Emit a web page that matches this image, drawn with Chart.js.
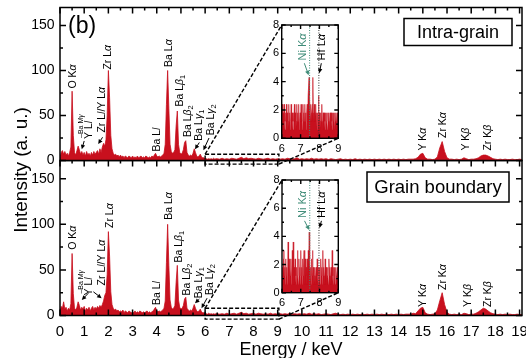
<!DOCTYPE html>
<html lang="en">
<head>
<meta charset="utf-8">
<title>EDS spectra - intra-grain / grain boundary</title>
<script src="https://cdn.jsdelivr.net/npm/chart.js"></script>
<style>
  body { margin: 0; background: #fff; }
  #wrap { position: relative; width: 526px; height: 358px; overflow: hidden; }
  #wrap canvas { position: absolute; left: 0; top: 0; }
</style>
</head>
<body>
<div id="wrap">
  <canvas id="bottom" width="526" height="358"></canvas>
  <canvas id="top" width="526" height="358"></canvas>
  <canvas id="insetTop" width="526" height="358"></canvas>
  <canvas id="insetBottom" width="526" height="358"></canvas>
</div>
<script>
const FONT = '"Liberation Sans", Arial, Helvetica, sans-serif';
const RED = 'rgb(200, 16, 30)';
const TEAL = '#3f8c78';
Chart.defaults.font.family = FONT;
Chart.defaults.color = '#000';

// sampling grid of the spectra (keV)
const LOW_START = 0, LOW_STEP = 0.05;     // 0 .. 6.45
const HIGH_START = 6.5, HIGH_STEP = 0.1;  // 6.5 .. 19.1
const INSET_START = 6, INSET_STEP = 0.025; // 6 .. 9

// tick values
const energyTicks = [0, 1, 2, 3, 4, 5, 6, 7, 8, 9, 10, 11, 12, 13, 14, 15, 16, 17, 18, 19];
const countTicks = [0, 50, 100, 150];
const insetXTicks = [6, 7, 8, 9];
const insetYTicks = [0, 2, 4, 6, 8];
const insetLines = [7.48, 7.97]; // Ni Ka, Hf La

// intra-grain spectrum (a.u.)
const intraLow = [
  3, 9, 11, 7, 10, 6, 8, 5, 9, 15,
  77, 28, 9, 6, 11, 16, 12, 7, 10, 6,
  9, 5, 10, 6, 8, 5, 9, 6, 10, 7,
  9, 11, 7, 13, 9, 15, 19, 16, 23, 50,
  100, 70, 28, 13, 8, 6, 7, 5, 6, 4,
  6, 4, 5, 3, 5, 4, 3, 5, 4, 3,
  5, 3, 4, 3, 5, 3, 4, 5, 3, 4,
  3, 5, 4, 3, 4, 3, 5, 4, 6, 8,
  5, 4, 5, 4, 5, 6, 8, 18, 62, 100,
  58, 18, 10, 8, 9, 12, 38, 55, 18, 9,
  7, 8, 12, 20, 22, 9, 6, 5, 6, 5,
  8, 13, 9, 5, 4, 5, 7, 4, 3, 3,
  2, 2, 1.5, 2, 1.5, 2, 1.5, 2.5, 1.5, 2
];
const intraHigh = [
  2, 1.5, 2.5, 1.5, 2, 1.5, 2.5, 2, 1.5, 2.5,
  3.5, 2, 3, 2, 2.5, 2, 1.5, 2.5, 2, 1.5,
  2, 2.5, 1.5, 2, 1.5, 2, 1.5, 2, 1.5, 2.5,
  2, 1.5, 2, 3, 1.5, 2, 1.5, 2, 1.5, 2.5,
  1.5, 2, 1.5, 2, 1.5, 2, 1, 2, 1.5, 1,
  1.5, 2, 1, 1.5, 1, 1.5, 1, 2, 1, 1.5,
  1, 1.5, 1, 1.5, 1, 1.5, 1, 1.5, 1, 1.5,
  1, 1.5, 1, 1.5, 1, 1.5, 1, 1.5, 1, 1.5,
  1.5, 1.5, 2, 3.5, 7, 8, 3, 1.5, 1.5, 1,
  1.5, 4, 14, 21, 10, 3, 1.5, 1.5, 1, 1.5,
  1, 1.5, 3, 2, 1, 1.5, 1.5, 2, 3, 5,
  6, 6, 5, 3.5, 2, 1.5, 1, 1.5, 1, 1.5,
  1, 1, 1.5, 1, 1, 1.5, 1
];

// grain-boundary spectrum (a.u.)
const boundaryLow = [
  4, 10, 8, 15, 7, 9, 5, 8, 6, 13,
  68, 24, 8, 6, 9, 15, 11, 6, 9, 7,
  10, 5, 8, 6, 9, 5, 8, 10, 6, 9,
  7, 10, 8, 11, 9, 12, 16, 22, 25, 45,
  92, 65, 26, 12, 8, 6, 7, 5, 6, 4,
  5, 4, 6, 3, 5, 4, 3, 5, 4, 3,
  4, 3, 5, 3, 4, 3, 5, 4, 3, 4,
  3, 4, 5, 3, 4, 3, 4, 5, 7, 9,
  5, 4, 5, 4, 5, 6, 8, 16, 58, 100,
  55, 17, 9, 7, 8, 11, 36, 55, 17, 9,
  7, 8, 11, 18, 20, 8, 6, 5, 6, 5,
  8, 12, 8, 5, 4, 5, 7, 4, 3, 3,
  2, 2, 1.5, 2.5, 1.5, 2, 1.5, 2, 1.5, 2
];
const boundaryHigh = [
  2, 1.5, 2, 1.5, 2.5, 1.5, 2, 2.5, 1.5, 2.5,
  3.5, 2, 2.5, 1.5, 2, 2.5, 1.5, 2.5, 2, 1.5,
  2, 1.5, 2.5, 1.5, 2, 1.5, 2, 1.5, 2, 1.5,
  2.5, 1.5, 2, 1.5, 2, 1.5, 2, 1.5, 2.5, 1.5,
  2, 1.5, 2, 1, 1.5, 2, 1.5, 1, 2, 2.5,
  1.5, 1, 1.5, 1, 1.5, 1, 1.5, 1, 1.5, 1,
  1.5, 1, 1.5, 1, 1.5, 1, 1.5, 1, 1.5, 1,
  1.5, 1, 1.5, 1, 1.5, 1, 1.5, 1, 1.5, 1.5,
  1.5, 2.5, 2, 5, 8, 9, 3, 1.5, 1, 1.5,
  2, 6, 16, 25, 12, 3.5, 1.5, 1, 1.5, 1,
  1.5, 1, 2.5, 2, 1, 1.5, 1.5, 2.5, 4, 6,
  8, 7, 5, 3, 2, 1.5, 1, 1.5, 1, 1.5,
  1, 1.5, 1, 1, 1.5, 1, 1
];

// zoomed 6-9 keV windows
const intraInset = [
  1.2, 2.4, 0.6, 1.8, 1.2, 2.4, 1.2, 0.6, 1.8, 1.2,
  2.4, 1.2, 1.8, 0.6, 1.2, 2.4, 1.2, 1.8, 0.6, 1.2,
  2.4, 1.2, 1.8, 1.2, 0.6, 1.8, 1.2, 2.4, 1.2, 1.8,
  0.6, 1.2, 2.4, 1.2, 1.8, 1.2, 2.4, 0.6, 1.2, 1.8,
  1.2, 2.4, 1.2, 1.8, 0.6, 2.4, 1.2, 1.8, 1.2, 2.4,
  1.2, 1.8, 0.6, 1.8, 2.4, 1.2, 3.0, 3.0, 4.3, 3.0,
  1.8, 1.2, 2.4, 1.8, 1.2, 2.4, 4.3, 1.8, 1.2, 2.4,
  1.2, 1.8, 2.4, 1.2, 1.8, 0.6, 1.8, 1.2, 3.0, 1.2,
  1.8, 0.6, 1.2, 1.8, 1.2, 2.4, 1.2, 0.6, 1.8, 1.2,
  1.8, 1.2, 0.6, 1.8, 1.2, 1.8, 1.2, 0.6, 1.8, 1.2,
  1.8, 1.2, 0.6, 1.8, 1.2, 1.8, 1.2, 0.6, 1.8, 1.2,
  1.8, 1.2, 0.6, 1.8, 1.2, 1.8, 1.2, 0.6, 1.8, 1.2,
  1.8
];
const boundaryInset = [
  1.2, 1.8, 0.6, 2.4, 3.0, 1.2, 1.8, 0.6, 2.4, 1.2,
  1.8, 0.6, 1.2, 3.6, 1.2, 2.4, 0.6, 1.8, 1.2, 2.4,
  0.6, 1.2, 3.0, 1.2, 3.6, 0.6, 1.8, 1.2, 2.4, 1.2,
  0.6, 1.8, 1.2, 3.0, 1.2, 0.6, 2.4, 1.2, 1.8, 0.6,
  3.0, 1.2, 1.8, 0.6, 2.4, 1.2, 1.8, 3.0, 1.2, 0.6,
  2.4, 1.2, 1.8, 0.6, 2.4, 1.2, 3.0, 2.4, 4.3, 2.4,
  1.2, 1.8, 0.6, 2.4, 1.2, 3.0, 1.2, 1.8, 0.6, 1.2,
  1.8, 1.2, 0.6, 1.8, 1.2, 2.4, 1.2, 0.6, 1.8, 1.2,
  1.8, 0.6, 1.2, 2.4, 1.2, 1.8, 0.6, 3.0, 1.2, 1.8,
  1.2, 0.6, 2.4, 1.2, 1.8, 0.6, 1.2, 1.8, 1.2, 0.6,
  2.4, 1.2, 1.8, 1.2, 0.6, 1.8, 1.2, 3.0, 1.2, 0.6,
  1.8, 1.2, 1.8, 0.6, 1.2, 1.8, 1.2, 0.6, 1.8, 1.2,
  1.2
];

// peak labels: energy, intensity where the text starts, text parts (* italic, _ subscript)
function lbl(x, y, ...parts) { return { x, y, parts }; }
const intraPeaks = [
  lbl(0.54, 80, 'O K', '*α'),
  lbl(2.0, 101, 'Zr L', '*α'),
  lbl(1.76, 31, 'Zr L', '*l', '/Y L', '*α'),
  lbl(1.2, 24, 'Y L', '*l'),
  lbl(4.0, 10, 'Ba L', '*l'),
  lbl(4.5, 104, 'Ba L', '*α'),
  lbl(4.96, 60, 'Ba L', '*β', '_1'),
  lbl(5.29, 26, 'Ba L', '*β', '_2'),
  lbl(5.75, 22, 'Ba L', '*γ', '_1'),
  lbl(6.23, 28, 'Ba L', '*γ', '_2'),
  lbl(15.0, 11, 'Y K', '*α'),
  lbl(15.83, 25, 'Zr K', '*α'),
  lbl(16.78, 11, 'Y K', '*β'),
  lbl(17.69, 11, 'Zr K', '*β')
];
const boundaryPeaks = [
  lbl(0.54, 72, 'O K', '*α'),
  lbl(2.07, 96, 'Zr L', '*α'),
  lbl(1.76, 33, 'Zr L', '*l', '/Y L', '*α'),
  lbl(1.22, 22, 'Y L', '*l'),
  lbl(4.0, 11.5, 'Ba L', '*l'),
  lbl(4.5, 105, 'Ba L', '*α'),
  lbl(4.92, 58, 'Ba L', '*β', '_1'),
  lbl(5.25, 22, 'Ba L', '*β', '_2'),
  lbl(5.74, 19, 'Ba L', '*γ', '_1'),
  lbl(6.2, 22.5, 'Ba L', '*γ', '_2'),
  lbl(15.0, 9.3, 'Y K', '*α'),
  lbl(15.83, 28, 'Zr K', '*α'),
  lbl(16.86, 9.3, 'Y K', '*β'),
  lbl(17.69, 9.3, 'Zr K', '*β')
];
// [x1, y1, x2, y2] in keV / a.u.
const intraArrows = [[1.0, 21.7, 0.9, 12.4], [1.76, 25.8, 1.58, 18.3], [5.76, 20, 5.58, 12.4], [6.16, 25, 5.93, 11.5]];
const boundaryArrows = [[1.17, 24.4, 0.9, 17], [1.38, 26, 1.72, 19], [5.76, 18, 5.58, 13.4], [6.08, 19, 5.85, 8]];

const deco = {
  top: {
    sides: 'tlr', peaks: intraPeaks, arrows: intraArrows, mgamma: [0.88, 25],
    zoom: [6, 9.05, 7, -4], inset: 'insetTop', tag: '(b)',
    box: { text: 'Intra-grain', dx0: 344, dy0: 11, w: 108, h: 27, size: 18 }
  },
  bottom: {
    sides: 'tlrb', peaks: boundaryPeaks, arrows: boundaryArrows, mgamma: [0.88, 24],
    zoom: [6, 9.05, 8, -4], inset: 'insetBottom', ytitle: true,
    box: { text: 'Grain boundary', dx0: 307, dy0: 11.5, w: 142, h: 30, size: 18.5 }
  },
  insetTop: {
    inset: true, labels: [lbl(7.12, 5.5, 'Ni K', '*α'), lbl(8.12, 5.5, 'Hf L', '*α')],
    arrows: [[7.2, 5.3, 7.43, 4.45], [8.1, 5.3, 7.99, 4.6]]
  },
  insetBottom: {
    inset: true, labels: [lbl(7.12, 5.3, 'Ni K', '*α'), lbl(8.12, 5.3, 'Hf L', '*α')],
    arrows: [[7.2, 5.1, 7.45, 4.45], [8.1, 5.1, 8.0, 4.6]]
  }
};

function drawRotated(ctx, px, py, parts, size, color) {
  ctx.save();
  ctx.translate(px, py);
  ctx.rotate(-Math.PI / 2);
  ctx.fillStyle = color;
  ctx.textBaseline = 'middle';
  ctx.textAlign = 'left';
  let cx = 0;
  parts.forEach(p => {
    let t = p, it = false, sub = false;
    if (p[0] === '*') { it = true; t = p.slice(1); }
    else if (p[0] === '_') { sub = true; t = p.slice(1); }
    const fs = sub ? size * 0.7 : size;
    ctx.font = (it ? 'italic ' : '') + fs + 'px ' + FONT;
    ctx.fillText(t, cx, sub ? size * 0.3 : 0);
    cx += ctx.measureText(t).width;
  });
  ctx.restore();
}

function arrow(ctx, x1, y1, x2, y2, color) {
  const ang = Math.atan2(y2 - y1, x2 - x1), h = 5;
  ctx.save();
  ctx.strokeStyle = color; ctx.fillStyle = color; ctx.lineWidth = 1;
  ctx.beginPath();
  ctx.moveTo(x1, y1);
  ctx.lineTo(x2 - Math.cos(ang) * h * 0.8, y2 - Math.sin(ang) * h * 0.8);
  ctx.stroke();
  ctx.beginPath();
  ctx.moveTo(x2, y2);
  ctx.lineTo(x2 - h * Math.cos(ang - 0.45), y2 - h * Math.sin(ang - 0.45));
  ctx.lineTo(x2 - h * Math.cos(ang + 0.45), y2 - h * Math.sin(ang + 0.45));
  ctx.closePath();
  ctx.fill();
  ctx.restore();
}

// frame with inward ticks
function drawFrame(chart, sides, xMajor, xMinor, yMajor, yMinor, lw, major, minor) {
  const { ctx, chartArea: a } = chart;
  const x = chart.scales.x, y = chart.scales.y;
  const isMajor = (v, m) => Math.abs(v / m - Math.round(v / m)) < 1e-6;
  ctx.save();
  ctx.strokeStyle = '#000';
  ctx.lineWidth = lw;
  ctx.beginPath();
  for (let i = 0; x.min + i * xMinor <= x.max + 1e-9; i++) {
    const v = x.min + i * xMinor, px = x.getPixelForValue(v);
    const len = isMajor(v, xMajor) ? major : minor;
    if (sides.includes('t')) { ctx.moveTo(px, a.top); ctx.lineTo(px, a.top + len); }
    if (sides.includes('b')) { ctx.moveTo(px, a.bottom); ctx.lineTo(px, a.bottom - len); }
  }
  for (let i = 0; y.min + i * yMinor <= y.max + 1e-9; i++) {
    const v = y.min + i * yMinor, py = y.getPixelForValue(v);
    const len = isMajor(v, yMajor) ? major : minor;
    if (sides.includes('l')) { ctx.moveTo(a.left, py); ctx.lineTo(a.left + len, py); }
    if (sides.includes('r')) { ctx.moveTo(a.right, py); ctx.lineTo(a.right - len, py); }
  }
  ctx.stroke();
  ctx.strokeRect(a.left, a.top, a.width, a.height);
  ctx.restore();
}

const charts = {};

const decoPlugin = {
  id: 'deco',
  beforeDatasetsDraw(chart) {
    const d = deco[chart.canvas.id];
    if (!d.inset) return;
    const a = chart.chartArea;
    chart.ctx.save();
    chart.ctx.fillStyle = '#fff';
    chart.ctx.fillRect(a.left, a.top, a.width, a.height);
    chart.ctx.restore();
  },
  afterDraw(chart) {
    const d = deco[chart.canvas.id];
    const { ctx, chartArea: a } = chart;
    const x = chart.scales.x, y = chart.scales.y;
    const px = v => x.getPixelForValue(v), py = v => y.getPixelForValue(v);

    if (d.inset === true) {
      ctx.save();
      ctx.lineWidth = 1;
      ctx.setLineDash([1, 1.5]);
      insetLines.forEach((e, i) => {
        ctx.strokeStyle = i === 0 ? TEAL : '#333';
        ctx.beginPath();
        ctx.moveTo(px(e), a.top);
        ctx.lineTo(px(e), a.bottom);
        ctx.stroke();
      });
      ctx.restore();
      d.labels.forEach((l, i) => drawRotated(ctx, px(l.x), py(l.y), l.parts, 11, i === 0 ? TEAL : '#000'));
      d.arrows.forEach((r, i) => arrow(ctx, px(r[0]), py(r[1]), px(r[2]), py(r[3]), i === 0 ? TEAL : '#000'));
      drawFrame(chart, 'tlrb', 1, 0.5, 2, 1, 1.4, 4, 2);
      return;
    }

    drawFrame(chart, d.sides, 1, 0.5, 50, 25, 1.5, 6, 3);

    d.peaks.forEach(l => drawRotated(ctx, px(l.x), py(l.y), l.parts, 10.5, '#000'));
    drawRotated(ctx, px(d.mgamma[0]), py(d.mgamma[1]), ['–Ba M', '*γ'], 7, '#000');
    d.arrows.forEach(r => arrow(ctx, px(r[0]), py(r[1]), px(r[2]), py(r[3]), '#000'));

    // dashed zoom window and connectors to the inset
    const z = d.zoom, ia = charts[d.inset].chartArea;
    ctx.save();
    ctx.strokeStyle = '#000';
    ctx.lineWidth = 1.4;
    ctx.setLineDash([4, 2]);
    ctx.strokeRect(px(z[0]), py(z[2]), px(z[1]) - px(z[0]), py(z[3]) - py(z[2]));
    ctx.beginPath();
    ctx.moveTo(px(z[0]), py(z[2]));
    ctx.lineTo(ia.left, ia.top);
    ctx.moveTo(px(z[1]), py(z[3]));
    ctx.lineTo(ia.right, ia.bottom);
    ctx.stroke();
    ctx.restore();

    // sample box
    const b = d.box;
    ctx.save();
    ctx.lineWidth = 1.5;
    ctx.strokeStyle = '#000';
    ctx.fillStyle = '#fff';
    ctx.fillRect(a.left + b.dx0, a.top + b.dy0, b.w, b.h);
    ctx.strokeRect(a.left + b.dx0, a.top + b.dy0, b.w, b.h);
    ctx.fillStyle = '#000';
    ctx.font = b.size + 'px ' + FONT;
    ctx.textAlign = 'center';
    ctx.textBaseline = 'middle';
    ctx.fillText(b.text, a.left + b.dx0 + b.w / 2, a.top + b.dy0 + b.h / 2 + 1);
    if (d.tag) {
      ctx.font = '23px ' + FONT;
      ctx.textAlign = 'left';
      ctx.fillText(d.tag, a.left + 8, a.top + 19);
    }
    if (d.ytitle) {
      ctx.translate(27, 170);
      ctx.rotate(-Math.PI / 2);
      ctx.font = '19px ' + FONT;
      ctx.textAlign = 'center';
      ctx.textBaseline = 'alphabetic';
      ctx.fillText('Intensity (a. u.)', 0, 0);
    }
    ctx.restore();
  }
};

function spectrumPoints(low, high) {
  const pts = [];
  low.forEach((v, i) => pts.push({ x: +(LOW_START + i * LOW_STEP).toFixed(3), y: v }));
  high.forEach((v, i) => pts.push({ x: +(HIGH_START + i * HIGH_STEP).toFixed(3), y: v }));
  return pts;
}
function insetPoints(vals) {
  return vals.map((v, i) => ({ x: +(INSET_START + i * INSET_STEP).toFixed(3), y: v }));
}
function spectrumDataset(points, bw) {
  return { data: points, borderColor: RED, backgroundColor: RED, borderWidth: bw,
           fill: 'origin', pointRadius: 0, tension: 0 };
}

const noGrid = { display: false, drawTicks: false };

function insetOptions(area) {
  return {
    responsive: false, animation: false, events: [],
    layout: { padding: { left: 0, right: 526 - area.right, top: area.top, bottom: 358 - area.bottom - 18 } },
    plugins: { legend: { display: false }, tooltip: { enabled: false } },
    scales: {
      x: {
        type: 'linear', min: 6, max: 9,
        afterBuildTicks: s => { s.ticks = insetXTicks.map(v => ({ value: v })); },
        ticks: { font: { size: 11 }, color: '#000', padding: 4, autoSkip: false, maxRotation: 0 },
        grid: noGrid, border: { display: false },
        afterFit: s => { s.height = 18; s.paddingLeft = 0; s.paddingRight = 0; }
      },
      y: {
        min: 0, max: 8,
        afterBuildTicks: s => { s.ticks = insetYTicks.map(v => ({ value: v })); },
        ticks: { font: { size: 11 }, color: '#000', padding: 2.5 },
        grid: noGrid, border: { display: false },
        afterFit: s => { s.width = area.left; s.paddingTop = 0; s.paddingBottom = 0; }
      }
    }
  };
}

function mainOptions(padTop, padBottom, showX) {
  return {
    responsive: false, animation: false, events: [],
    layout: { padding: { left: 0, right: 4, top: padTop, bottom: padBottom } },
    plugins: { legend: { display: false }, tooltip: { enabled: false } },
    scales: {
      x: {
        type: 'linear', min: 0, max: 19.1, display: showX,
        afterBuildTicks: s => { s.ticks = energyTicks.map(v => ({ value: v })); },
        ticks: { autoSkip: false, maxRotation: 0, font: { size: 15 }, color: '#000', padding: 7 },
        grid: noGrid, border: { display: false },
        title: { display: showX, text: 'Energy / keV', font: { size: 18 }, color: '#000',
                 padding: { top: 0, bottom: -2.5 } },
        afterFit: s => { if (showX) { s.height = 42.5; } s.paddingLeft = 0; s.paddingRight = 0; }
      },
      y: {
        min: 0, max: 170,
        afterBuildTicks: s => { s.ticks = countTicks.map(v => ({ value: v })); },
        ticks: { font: { size: 14 }, color: '#000', padding: 5.5 },
        grid: noGrid, border: { display: false },
        afterFit: s => { s.width = 60; s.paddingTop = 0; s.paddingBottom = 0; }
      }
    }
  };
}

charts.insetTop = new Chart(document.getElementById('insetTop'), {
  type: 'line',
  data: { datasets: [spectrumDataset(insetPoints(intraInset), 0.6)] },
  options: insetOptions({ left: 281.7, right: 338.3, top: 25, bottom: 138.3 }),
  plugins: [decoPlugin]
});
charts.insetBottom = new Chart(document.getElementById('insetBottom'), {
  type: 'line',
  data: { datasets: [spectrumDataset(insetPoints(boundaryInset), 0.6)] },
  options: insetOptions({ left: 282, right: 338.3, top: 180, bottom: 292.7 }),
  plugins: [decoPlugin]
});
charts.top = new Chart(document.getElementById('top'), {
  type: 'line',
  data: { datasets: [spectrumDataset(spectrumPoints(intraLow, intraHigh), 0.8)] },
  options: mainOptions(7.5, 197.5, false),
  plugins: [decoPlugin]
});
charts.bottom = new Chart(document.getElementById('bottom'), {
  type: 'line',
  data: { datasets: [spectrumDataset(spectrumPoints(boundaryLow, boundaryHigh), 0.8)] },
  options: mainOptions(160.5, 0, true),
  plugins: [decoPlugin]
});
</script>
</body>
</html>
